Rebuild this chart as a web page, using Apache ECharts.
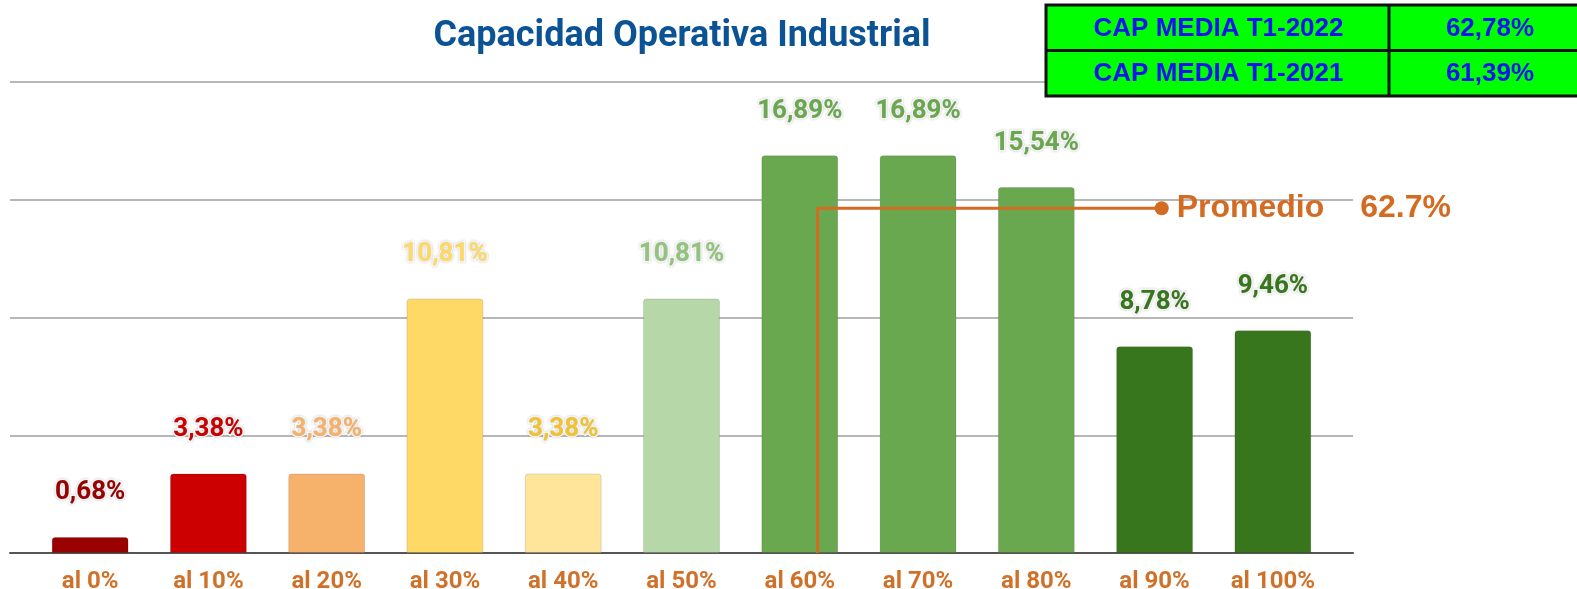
<!DOCTYPE html>
<html>
<head>
<meta charset="utf-8">
<script src="https://cdn.jsdelivr.net/npm/echarts@6/dist/echarts.min.js"></script>
<style>
html,body{margin:0;padding:0;background:#fff;}
#chart{width:1577px;height:589px;}
</style>
</head>
<body>
<div id="chart"></div>
<script>
var categories = ['al 0%','al 10%','al 20%','al 30%','al 40%','al 50%','al 60%','al 70%','al 80%','al 90%','al 100%'];
var values = [0.68, 3.38, 3.38, 10.81, 3.38, 10.81, 16.89, 16.89, 15.54, 8.78, 9.46];
var barColors = ['#990000','#cc0000','#f6b26b','#ffd966','#ffe599','#b6d7a8','#6aa84f','#6aa84f','#6aa84f','#38761d','#38761d'];
var labelColors = ['#990000','#cc0000','#f6b26b','#ffd966','#f1c232','#93c47d','#6aa84f','#6aa84f','#6aa84f','#38761d','#38761d'];
var yTicks = [0, 5, 10, 15, 20];
var promedioLabel = 'Promedio';
var promedioValue = '62.7%';
var promedioPath = [[61.5, 0], [61.5, 14.64], [90.6, 14.64]];
var tableLabels = ['CAP MEDIA T1-2022', 'CAP MEDIA T1-2021'];
var tableValues = ['62,78%', '61,39%'];

var chart = echarts.init(document.getElementById('chart'));

var barData = values.map(function (v, i) {
  return {
    value: v,
    itemStyle: { color: barColors[i] },
    label: { color: labelColors[i] }
  };
});

var tableGraphics = [];
var tX = 1046, tY = 5, tW = 540, rowH = 45.5, divX = 1389;
tableGraphics.push({ type: 'rect', shape: { x: tX, y: tY, width: tW, height: rowH * 2 },
  style: { fill: '#00ff00', stroke: '#111', lineWidth: 3 }, z: 10 });
tableGraphics.push({ type: 'line', shape: { x1: tX, y1: tY + rowH, x2: tX + tW, y2: tY + rowH },
  style: { stroke: '#111', lineWidth: 3 }, z: 11 });
tableGraphics.push({ type: 'line', shape: { x1: divX, y1: tY, x2: divX, y2: tY + rowH * 2 },
  style: { stroke: '#111', lineWidth: 3 }, z: 11 });
tableLabels.forEach(function (lab, i) {
  tableGraphics.push({ type: 'text', x: (tX + divX) / 2 + 1, y: tY + rowH * i + rowH / 2 + 1, z: 12,
    style: { text: lab, fill: '#1414ee', font: 'bold 26px "Liberation Sans", Arial, sans-serif',
      textAlign: 'center', textVerticalAlign: 'middle' } });
  tableGraphics.push({ type: 'text', x: 1490, y: tY + rowH * i + rowH / 2 + 1, z: 12,
    style: { text: tableValues[i], fill: '#1414ee', font: 'bold 26px "Liberation Sans", Arial, sans-serif',
      textAlign: 'center', textVerticalAlign: 'middle' } });
});

var option = {
  animation: false,
  backgroundColor: '#ffffff',
  title: {
    text: 'Capacidad Operativa Industrial',
    left: 677, top: 14, textAlign: 'center',
    textStyle: { fontFamily: 'Roboto', fontWeight: 'bold', fontSize: 36, color: '#0b5394' }
  },
  graphic: tableGraphics,
  grid: [
    { left: 31, right: 245, top: 82, bottom: 36, outerBoundsMode: 'none', containLabel: false },
    { left: 10, right: 224, top: 82, bottom: 36, outerBoundsMode: 'none', containLabel: false }
  ],
  xAxis: [
    {
      type: 'category', gridIndex: 0, data: categories,
      axisLine: { show: false }, axisTick: { show: false },
      axisLabel: { color: '#d0712a', fontFamily: 'Roboto', fontWeight: 'bold', fontSize: 24, margin: 17 }
    },
    {
      type: 'value', gridIndex: 1, min: 0, max: 1,
      axisLine: { show: true, onZero: false, lineStyle: { color: '#555555', width: 2 } },
      axisTick: { show: false }, axisLabel: { show: false }, splitLine: { show: false }
    },
    {
      type: 'value', gridIndex: 0, min: -5, max: 105, show: false,
      splitLine: { show: false }
    }
  ],
  yAxis: [
    {
      type: 'value', gridIndex: 0, min: yTicks[0], max: yTicks[yTicks.length - 1], interval: 5,
      axisLine: { show: false }, axisTick: { show: false }, axisLabel: { show: false },
      splitLine: { show: false }
    },
    {
      type: 'value', gridIndex: 1, min: yTicks[0], max: yTicks[yTicks.length - 1], interval: 5,
      axisLine: { show: false }, axisTick: { show: false }, axisLabel: { show: false },
      splitLine: { show: true, lineStyle: { color: '#b7b7b7', width: 2 } }
    }
  ],
  series: [
    {
      type: 'bar', xAxisIndex: 0, yAxisIndex: 0, data: barData, barWidth: '65%',
      itemStyle: { borderRadius: [3, 3, 0, 0], borderColor: 'rgba(0,0,0,0.12)', borderWidth: 1 },
      label: {
        show: true, position: 'top', distance: 31,
        fontFamily: 'Roboto', fontWeight: 'bold', fontSize: 26,
        textBorderColor: '#ffffff', textBorderWidth: 3,
        textShadowColor: 'rgba(0,0,0,0.25)', textShadowBlur: 2,
        formatter: function (p) { return p.value.toFixed(2).replace('.', ',') + '%'; }
      },
      z: 3
    },
    {
      type: 'line', xAxisIndex: 2, yAxisIndex: 0, data: promedioPath,
      lineStyle: { color: '#d46b22', width: 3 },
      itemStyle: { color: '#d46b22' },
      symbol: 'circle', symbolSize: function (v, p) { return p.dataIndex === promedioPath.length - 1 ? 14 : 0; },
      showAllSymbol: true,
      label: {
        show: true, position: 'right', distance: 8,
        formatter: function (p) { return p.dataIndex === promedioPath.length - 1 ? '{a|' + promedioLabel + '}{b|' + promedioValue + '}' : ''; },
        rich: {
          a: { fontFamily: 'Liberation Sans', fontWeight: 'bold', fontSize: 32, color: '#d46b22' },
          b: { fontFamily: 'Liberation Sans', fontWeight: 'bold', fontSize: 32, color: '#d46b22', padding: [0, 0, 0, 36] }
        }
      },
      z: 5
    }
  ]
};
chart.setOption(option);
</script>
</body>
</html>
